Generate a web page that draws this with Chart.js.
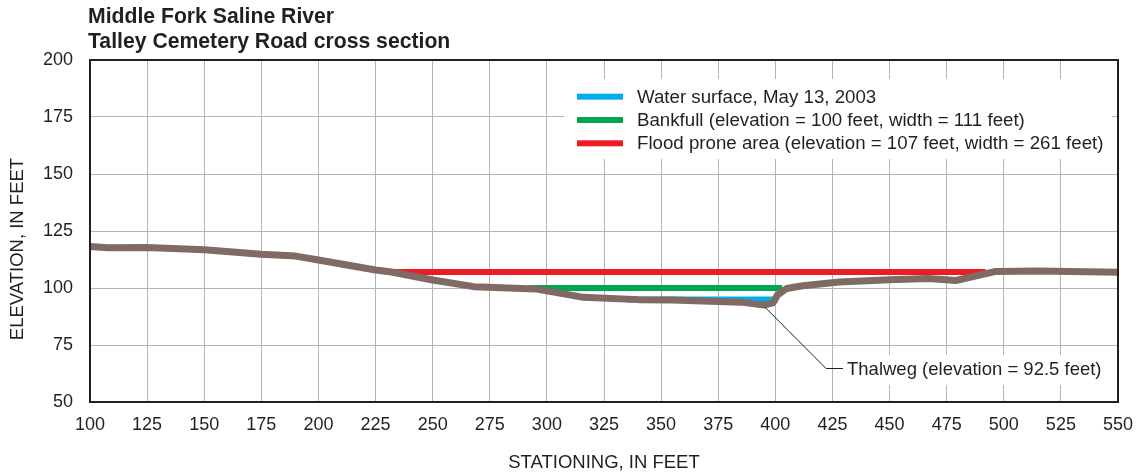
<!DOCTYPE html>
<html>
<head>
<meta charset="utf-8">
<title>Middle Fork Saline River cross section</title>
<script src="https://cdn.jsdelivr.net/npm/chart.js@4.4.1/dist/chart.umd.min.js"></script>
<style>
  html, body { margin: 0; padding: 0; background: #fff; }
  #wrap { width: 1139px; height: 475px; position: relative; }
</style>
</head>
<body>
<div id="wrap"><canvas id="xsec" width="1139" height="475"></canvas></div>
<script>
'use strict';

/* ── DATA ─────────────────────────────────────────────────────── */
var titleLines = ['Middle Fork Saline River', 'Talley Cemetery Road cross section'];

// ground profile, station (ft) vs elevation (ft)
var groundStation = [100, 108, 125, 150, 175, 190, 200, 225, 232, 250, 268, 295, 316, 340, 355, 385, 395, 399, 401, 405, 412, 428, 450, 467, 479, 496, 515, 550];
var groundElev    = [118.2, 117.7, 117.8, 116.8, 114.8, 114.0, 112.3, 107.9, 107.0, 103.5, 100.6, 99.6, 95.9, 94.9, 94.7, 93.8, 92.5, 93.5, 97.0, 99.8, 101.0, 102.6, 103.6, 104.2, 103.3, 107.2, 107.5, 106.9];

// level lines: [start station, end station] at one elevation
var waterStation    = [335, 401];
var waterElev       = 95;
var bankfullStation = [292, 403];
var bankfullElev    = 100;
var floodStation    = [231, 492];
var floodElev       = 107;

var thalwegStation = 395;
var thalwegElev    = 92.5;

var legendLabels = [
  'Water surface, May 13, 2003',
  'Bankfull (elevation = 100 feet, width = 111 feet)',
  'Flood prone area (elevation = 107 feet, width = 261 feet)'
];
var thalwegLabel = 'Thalweg (elevation = 92.5 feet)';

var xTitle = 'STATIONING, IN FEET';
var yTitle = 'ELEVATION, IN FEET';

/* ── STYLE ────────────────────────────────────────────────────── */
var FONT   = '"Liberation Sans", Arial, Helvetica, sans-serif';
var INK    = '#231f20';
var C_GROUND = '#806a63';
var C_WATER  = '#00aeef';
var C_BANK   = '#00a651';
var C_FLOOD  = '#ed1c24';
var C_GRID   = '#b4b4b4';

function toPoints(xs, ys) {
  return xs.map(function(x, i) { return { x: x, y: ys[i] }; });
}
function levelLine(xs, y) {
  return xs.map(function(x) { return { x: x, y: y }; });
}

/* ── PLUGIN: titles, frame, legend, thalweg callout ───────────── */
var decorations = {
  id: 'decorations',
  afterDraw: function(chart) {
    var ctx = chart.ctx;
    var a = chart.chartArea;
    var xs = chart.scales.x, ys = chart.scales.y;

    ctx.save();

    // heading
    ctx.fillStyle = INK;
    ctx.font = 'bold 21.2px ' + FONT;
    ctx.textAlign = 'left';
    ctx.textBaseline = 'middle';
    ctx.fillText(titleLines[0], 88, 17);
    ctx.fillText(titleLines[1], 88, 42);

    // vertical axis title, set a little below the plot's middle
    ctx.save();
    ctx.translate(18, 249);
    ctx.rotate(-Math.PI / 2);
    ctx.textAlign = 'center';
    ctx.font = '18.5px ' + FONT;
    ctx.fillText(yTitle, 0, 0);
    ctx.restore();

    // frame around plot
    ctx.strokeStyle = INK;
    ctx.lineWidth = 2;
    ctx.strokeRect(a.left, a.top, a.right - a.left, a.bottom - a.top);

    // legend
    var colors = [C_WATER, C_BANK, C_FLOOD];
    ctx.fillStyle = '#fff';
    ctx.fillRect(564, 79, 548, 80);
    ctx.font = '18.7px ' + FONT;
    for (var i = 0; i < legendLabels.length; i++) {
      var cy = 96.7 + i * 23.3;
      ctx.fillStyle = colors[i];
      ctx.fillRect(577, cy - 3, 46, 6);
      ctx.fillStyle = INK;
      ctx.fillText(legendLabels[i], 637, cy + 1);
    }

    // thalweg callout
    var px = xs.getPixelForValue(thalwegStation);
    var py = ys.getPixelForValue(thalwegElev);
    ctx.fillStyle = '#fff';
    ctx.fillRect(843, 355, 264, 30);
    ctx.strokeStyle = INK;
    ctx.lineWidth = 1;
    ctx.beginPath();
    ctx.moveTo(px + 1, py + 2);
    ctx.lineTo(826, 368.5);
    ctx.lineTo(843, 368.5);
    ctx.stroke();
    ctx.fillStyle = INK;
    ctx.font = '18.5px ' + FONT;
    ctx.fillText(thalwegLabel, 847, 369.5);

    ctx.restore();
  }
};

/* ── CHART ────────────────────────────────────────────────────── */
var lineBase = { showLine: true, tension: 0, pointRadius: 0, fill: false, borderCapStyle: 'butt', borderJoinStyle: 'round' };

new Chart(document.getElementById('xsec'), {
  type: 'scatter',
  data: {
    datasets: [
      Object.assign({ label: 'Ground', data: toPoints(groundStation, groundElev), borderColor: C_GROUND, borderWidth: 7, order: 0 }, lineBase),
      Object.assign({ label: legendLabels[2], data: levelLine(floodStation, floodElev), borderColor: C_FLOOD, borderWidth: 6, order: 1 }, lineBase),
      Object.assign({ label: legendLabels[1], data: levelLine(bankfullStation, bankfullElev), borderColor: C_BANK, borderWidth: 6, order: 2 }, lineBase),
      Object.assign({ label: legendLabels[0], data: levelLine(waterStation, waterElev), borderColor: C_WATER, borderWidth: 6, order: 3 }, lineBase)
    ]
  },
  options: {
    responsive: false,
    devicePixelRatio: 1,
    animation: false,
    layout: { padding: { top: 60, right: 21, left: 0, bottom: 0 } },
    scales: {
      x: {
        type: 'linear', min: 100, max: 550,
        afterFit: function(s) { s.height = 73; s.paddingLeft = 0; s.paddingRight = 0; },
        grid: { color: C_GRID, lineWidth: 1, drawTicks: false },
        border: { display: false },
        ticks: { stepSize: 25, padding: 12, color: INK, font: { family: FONT, size: 18 } },
        title: { display: true, text: xTitle, color: INK, font: { family: FONT, size: 18.5 }, padding: { top: 0, bottom: 1 } }
      },
      y: {
        type: 'linear', min: 50, max: 200,
        afterFit: function(s) { s.width = 90; s.paddingTop = 0; s.paddingBottom = 0; },
        grid: { color: C_GRID, lineWidth: 1, drawTicks: false },
        border: { display: false },
        ticks: { stepSize: 25, padding: 17, color: INK, font: { family: FONT, size: 18 } },
        title: { display: false }
      }
    },
    plugins: {
      legend: { display: false },
      tooltip: { enabled: false },
      title: { display: false }
    }
  },
  plugins: [decorations]
});
</script>
</body>
</html>
